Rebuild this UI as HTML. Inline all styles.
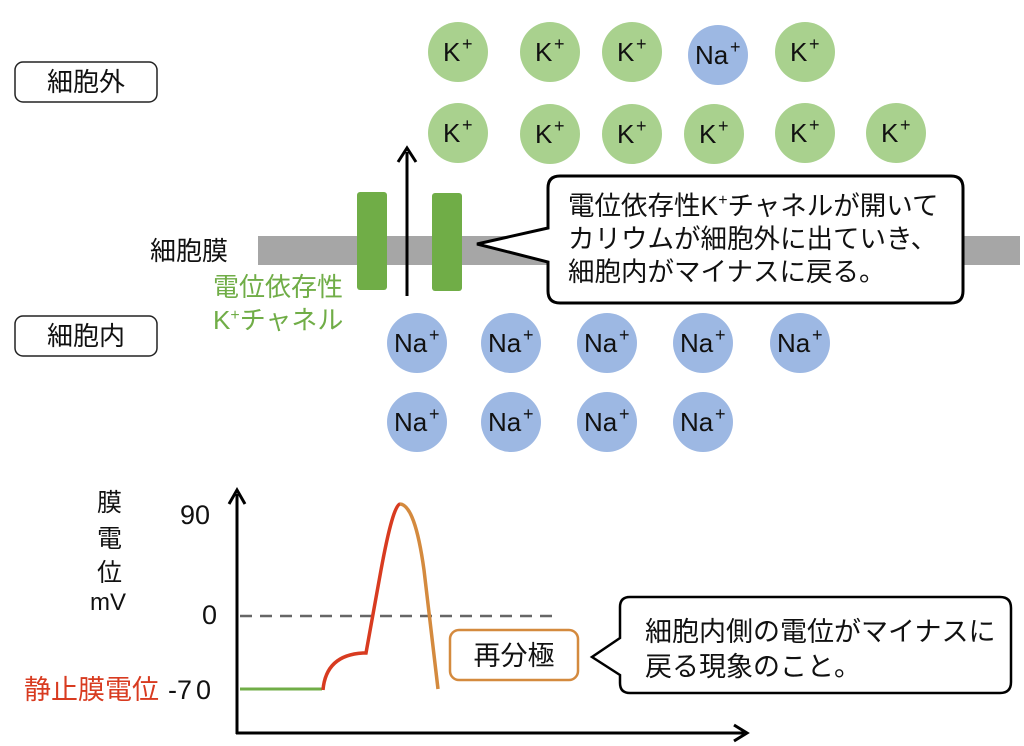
<!DOCTYPE html>
<html><head><meta charset="utf-8"><style>
body{margin:0;background:#fff}
svg{display:block}
text{font-family:"Liberation Sans","Noto Sans CJK JP",sans-serif;fill:#111}
</style></head><body>
<svg width="1024" height="746" viewBox="0 0 1024 746" xmlns="http://www.w3.org/2000/svg">
<defs>
<g id="K"><circle r="30" fill="#a9d18e"/><text x="-15" y="9" font-size="26">K</text><text x="4" y="-2" font-size="18">+</text></g>
<g id="N"><circle r="30" fill="#9db8e3"/><text x="-23" y="9" font-size="26">Na</text><text x="12" y="-2" font-size="18">+</text></g>
</defs>
<rect x="15" y="62" width="142" height="40" rx="8" fill="#fff" stroke="#222" stroke-width="1.5"/>
<text x="86" y="91" font-size="26" text-anchor="middle">細胞外</text>
<rect x="15" y="316" width="142" height="40" rx="8" fill="#fff" stroke="#222" stroke-width="1.5"/>
<text x="86" y="345" font-size="26" text-anchor="middle">細胞内</text>
<use href="#K" x="458" y="52"/><use href="#K" x="550" y="52"/><use href="#K" x="632" y="52"/><use href="#N" x="718" y="55"/><use href="#K" x="805" y="52"/>
<use href="#K" x="458" y="133"/><use href="#K" x="550" y="134"/><use href="#K" x="632" y="134"/><use href="#K" x="714" y="134"/><use href="#K" x="805" y="133"/><use href="#K" x="896" y="133"/>
<use href="#N" x="417" y="343"/><use href="#N" x="511" y="343"/><use href="#N" x="607" y="343"/><use href="#N" x="703" y="343"/><use href="#N" x="800" y="343"/>
<use href="#N" x="417" y="422"/><use href="#N" x="511" y="422"/><use href="#N" x="607" y="422"/><use href="#N" x="703" y="422"/>
<rect x="258" y="236" width="762" height="29" fill="#a6a6a6"/>
<text x="150" y="260" font-size="26">細胞膜</text>
<rect x="357" y="192" width="30" height="98" rx="3" fill="#70ad47"/>
<rect x="432" y="193" width="30" height="98" rx="3" fill="#70ad47"/>
<line x1="407" y1="296" x2="407" y2="152" stroke="#000" stroke-width="3"/>
<path d="M398 162 L407 148 L416 162" fill="none" stroke="#000" stroke-width="3"/>
<text x="213" y="296" font-size="26" style="fill:#70ad47">電位依存性</text>
<text x="213" y="329" font-size="26" style="fill:#70ad47">K<tspan font-size="16" dy="-9">+</tspan><tspan dy="9">チャネル</tspan></text>
<path d="M560 176 H951 Q963 176 963 188 V291 Q963 303 951 303 H560 Q548 303 548 291 V262 L477 244 L548 228 V188 Q548 176 560 176 Z" fill="#fff" stroke="#000" stroke-width="3"/>
<text x="568" y="215" font-size="26.5">電位依存性K<tspan font-size="16" dy="-10">+</tspan><tspan dy="10">チャネルが開いて</tspan></text>
<text x="568" y="248" font-size="26.5">カリウムが細胞外に出ていき、</text>
<text x="568" y="281" font-size="26.5">細胞内がマイナスに戻る。</text>
<line x1="237" y1="734" x2="237" y2="494" stroke="#000" stroke-width="3"/>
<path d="M229 504 L237 490 L245 504" fill="none" stroke="#000" stroke-width="3"/>
<line x1="236" y1="733" x2="744" y2="733" stroke="#000" stroke-width="3"/>
<path d="M734 725 L747 733 L734 741" fill="none" stroke="#000" stroke-width="3"/>
<line x1="240" y1="616" x2="560" y2="616" stroke="#666" stroke-width="2.5" stroke-dasharray="12,8"/>
<line x1="240" y1="689" x2="322" y2="689" stroke="#70ad47" stroke-width="3"/>
<path d="M323 690 Q326 655 363 653 L366 653 L381 570 Q393 505 400 504" fill="none" stroke="#d83b20" stroke-width="3.5"/>
<path d="M400 504 Q415 505 424 570 L438 689" fill="none" stroke="#d48a3e" stroke-width="3.5"/>
<text x="97" y="511" font-size="25">膜</text>
<text x="97" y="547" font-size="25">電</text>
<text x="97" y="581" font-size="25">位</text>
<text x="90" y="610" font-size="24">mV</text>
<text x="180" y="524" font-size="27">90</text>
<text x="202" y="624" font-size="27">0</text>
<text x="168" y="699" font-size="27">-7<tspan dx="4">0</tspan></text>
<text x="24" y="699" font-size="27" style="fill:#d83b20">静止膜電位</text>
<rect x="450" y="630" width="128" height="50" rx="9" fill="#fff" stroke="#d48a3e" stroke-width="2.5"/>
<text x="514" y="665" font-size="27" text-anchor="middle">再分極</text>
<path d="M630 597 H1000 Q1011 597 1011 608 V682 Q1011 693 1000 693 H630 Q620 693 620 683 V675 L592 657 L620 638 V607 Q620 597 630 597 Z" fill="#fff" stroke="#000" stroke-width="2.5"/>
<text x="645" y="641" font-size="27">細胞内側の電位がマイナスに</text>
<text x="645" y="676" font-size="27">戻る現象のこと。</text>
</svg>
</body></html>
